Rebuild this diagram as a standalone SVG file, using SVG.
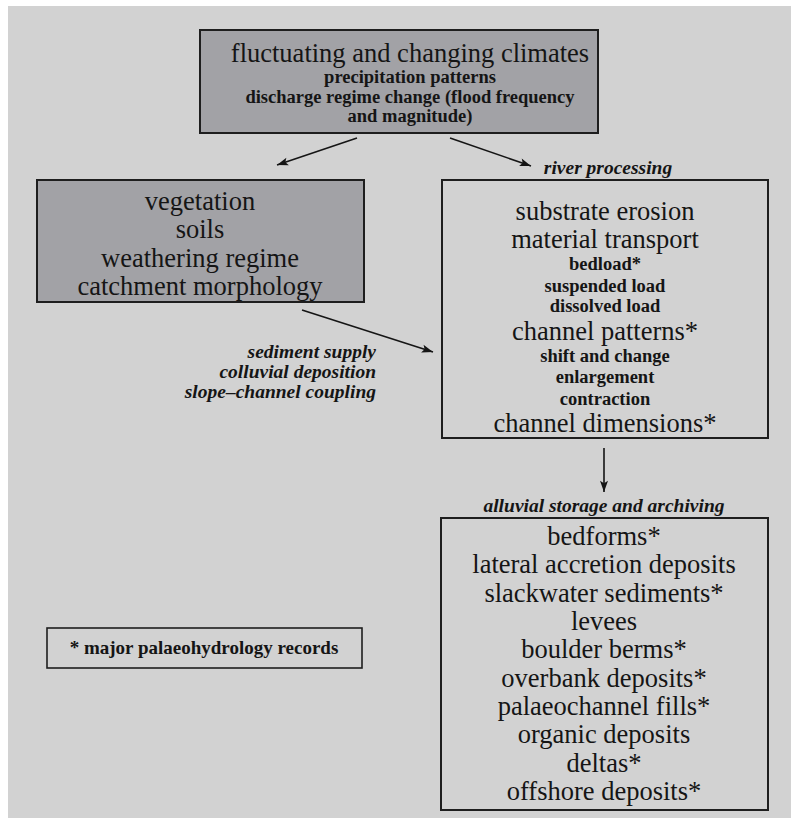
<svg xmlns="http://www.w3.org/2000/svg" width="791" height="818" viewBox="0 0 791 818" font-family="Liberation Serif, DejaVu Serif, serif">
<style>
text{fill:#151515;text-anchor:middle}
.big{font-size:26.5px}
.sm{font-size:18.5px;font-weight:bold}
.it{font-size:19.5px;font-style:italic;font-weight:bold}
.dark{fill:#a2a2a6;stroke:#1e1e1e;stroke-width:2}
.light{fill:none;stroke:#1e1e1e;stroke-width:2}
.conn{stroke:#151515;stroke-width:1.6;fill:none;marker-end:url(#ah)}
</style>
<defs>
<marker id="ah" viewBox="0 0 10 10" refX="9" refY="5" markerWidth="9" markerHeight="8" markerUnits="userSpaceOnUse" orient="auto" overflow="visible">
<path d="M0,0 L14,5 L0,10 L3,5 Z" fill="#151515" transform="translate(-5,0)"/>
</marker>
</defs>
<rect x="0" y="0" width="791" height="818" fill="#ffffff"/>
<rect x="8" y="6" width="783" height="812" fill="#d2d2d2"/>

<g id="climates">
<rect class="dark" x="200" y="30" width="398" height="103"/>
<text class="big" x="410" y="62">fluctuating and changing climates</text>
<text class="sm" x="410" y="83">precipitation patterns</text>
<text class="sm" x="410" y="103">discharge regime change (flood frequency</text>
<text class="sm" x="410" y="122">and magnitude)</text>
</g>

<g id="catchment">
<rect class="dark" x="37" y="180" width="327" height="122"/>
<text class="big" x="200" y="210">vegetation</text>
<text class="big" x="200" y="238">soils</text>
<text class="big" x="200" y="267">weathering regime</text>
<text class="big" x="200" y="295">catchment morphology</text>
</g>

<g id="slope-labels">
<text class="it" x="376" y="358" text-anchor="end" style="text-anchor:end">sediment supply</text>
<text class="it" x="376" y="378" text-anchor="end" style="text-anchor:end">colluvial deposition</text>
<text class="it" x="376" y="398" text-anchor="end" style="text-anchor:end">slope–channel coupling</text>
</g>

<g id="river-processing">
<text class="it" x="608" y="174">river processing</text>
<rect class="light" x="442" y="180" width="326" height="258"/>
<text class="big" x="605" y="220">substrate erosion</text>
<text class="big" x="605" y="248">material transport</text>
<text class="sm" x="605" y="270">bedload*</text>
<text class="sm" x="605" y="292">suspended load</text>
<text class="sm" x="605" y="312">dissolved load</text>
<text class="big" x="605" y="340">channel patterns*</text>
<text class="sm" x="605" y="362">shift and change</text>
<text class="sm" x="605" y="383">enlargement</text>
<text class="sm" x="605" y="405">contraction</text>
<text class="big" x="605" y="432">channel dimensions*</text>
</g>

<g id="alluvial-storage">
<text class="it" x="604" y="512">alluvial storage and archiving</text>
<rect class="light" x="441" y="518" width="327" height="292"/>
<text class="big" x="604" y="545">bedforms*</text>
<text class="big" x="604" y="573">lateral accretion deposits</text>
<text class="big" x="604" y="602">slackwater sediments*</text>
<text class="big" x="604" y="630">levees</text>
<text class="big" x="604" y="658">boulder berms*</text>
<text class="big" x="604" y="687">overbank deposits*</text>
<text class="big" x="604" y="715">palaeochannel fills*</text>
<text class="big" x="604" y="743">organic deposits</text>
<text class="big" x="604" y="772">deltas*</text>
<text class="big" x="604" y="800">offshore deposits*</text>
</g>

<g id="legend">
<rect class="light" x="47" y="628" width="315" height="40" style="stroke-width:1.6"/>
<text class="sm" x="204" y="654" style="font-size:19px">* major palaeohydrology records</text>
</g>

<g id="connectors">
<line class="conn" x1="357" y1="138" x2="277" y2="165"/>
<line class="conn" x1="450" y1="138" x2="531" y2="166"/>
<line class="conn" x1="302" y1="310" x2="433" y2="352"/>
<line class="conn" x1="604" y1="448" x2="604" y2="492"/>
</g>
</svg>
